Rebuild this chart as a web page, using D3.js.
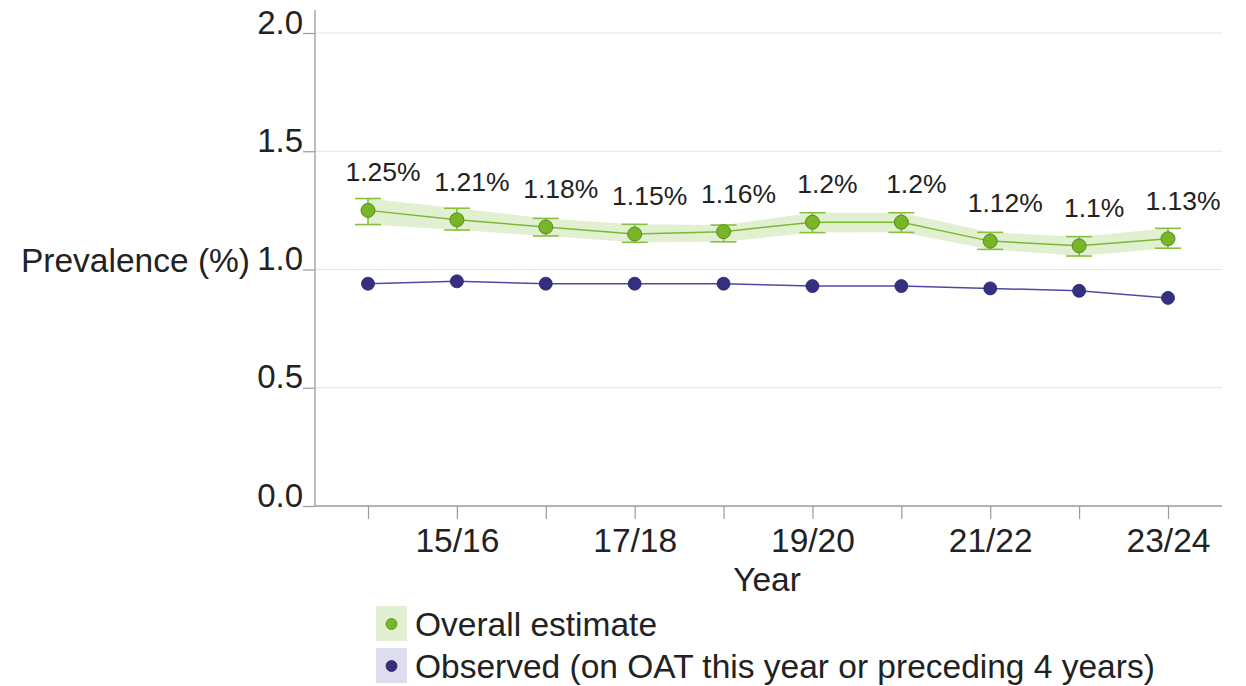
<!DOCTYPE html>
<html>
<head>
<meta charset="utf-8">
<script src="https://cdn.jsdelivr.net/npm/d3@7"></script>
<style>
  html, body { margin: 0; padding: 0; background: #fff; }
  svg { display: block; font-family: "Liberation Sans", Arial, Helvetica, sans-serif; }
</style>
</head>
<body>
<svg id="chart" width="1246" height="686"></svg>
<script>
// Financial years
const years = ["14/15", "15/16", "16/17", "17/18", "18/19", "19/20", "20/21", "21/22", "22/23", "23/24"];
// Overall estimated prevalence (%) with 95% interval bounds
const estimate = [1.25, 1.21, 1.18, 1.15, 1.16, 1.2, 1.2, 1.12, 1.1, 1.13];
const estimateLow = [1.19, 1.167, 1.142, 1.115, 1.117, 1.156, 1.157, 1.085, 1.057, 1.09];
const estimateHigh = [1.30, 1.259, 1.216, 1.191, 1.188, 1.24, 1.24, 1.157, 1.139, 1.174];
// Observed prevalence (%) – on OAT this year or preceding 4 years
const observed = [0.94, 0.95, 0.94, 0.94, 0.94, 0.93, 0.93, 0.92, 0.91, 0.88];
// Axis ticks
const yTicks = [0, 0.5, 1.0, 1.5, 2.0];
const xTickLabels = ["15/16", "17/18", "19/20", "21/22", "23/24"];

const svg = d3.select("#chart");
const textColor = "#222";
const axisFont = 33.5;

const x = d3.scalePoint().domain(years).range([368, 1168]);
const y = d3.scaleLinear().domain([0, 2]).range([506, 33]);
const left = 315, right = 1222;

// Gridlines
svg.append("g").selectAll("line").data(yTicks.filter(d => d > 0)).join("line")
  .attr("x1", left).attr("x2", right)
  .attr("y1", d => y(d)).attr("y2", d => y(d))
  .attr("stroke", "#e3e3e3").attr("stroke-width", 1.2);

// Y axis
const yAxis = svg.append("g").attr("transform", `translate(${left},0)`)
  .call(d3.axisLeft(y).tickValues(yTicks).tickFormat(d3.format(".1f")).tickSize(12).tickPadding(0));
yAxis.select(".domain").attr("d", `M0,10V${y(0)}`).attr("stroke", "#9a9a9a").attr("stroke-width", 1.3);
yAxis.selectAll(".tick line").attr("stroke", "#9a9a9a").attr("stroke-width", 1.2);
yAxis.selectAll(".tick text")
  .attr("x", -12).attr("dy", "0").attr("y", 0)
  .attr("fill", textColor).attr("font-size", 33).attr("font-family", "Liberation Sans, Arial, sans-serif");

// X axis
const xAxis = svg.append("g").attr("transform", `translate(0,${y(0)})`)
  .call(d3.axisBottom(x).tickSize(13).tickPadding(8)
    .tickFormat(d => xTickLabels.includes(d) ? d : ""));
xAxis.select(".domain").attr("d", `M${left},0H${right}`).attr("stroke", "#9a9a9a").attr("stroke-width", 1.3);
xAxis.selectAll(".tick line").attr("stroke", "#9a9a9a").attr("stroke-width", 1.2);
xAxis.selectAll(".tick text")
  .attr("dy", "0.71em").attr("y", 22)
  .attr("fill", textColor).attr("font-size", axisFont).attr("font-family", "Liberation Sans, Arial, sans-serif");

// Axis titles
svg.append("text").attr("x", 250).attr("y", 272).attr("text-anchor", "end")
  .attr("fill", textColor).attr("font-size", axisFont).text("Prevalence (%)");
svg.append("text").attr("x", 767).attr("y", 591).attr("text-anchor", "middle")
  .attr("fill", textColor).attr("font-size", axisFont).text("Year");

// Interval band for overall estimate
const band = d3.area()
  .x((d, i) => x(years[i]))
  .y0((d, i) => y(estimateLow[i]))
  .y1((d, i) => y(estimateHigh[i]));
svg.append("path").datum(estimate).attr("d", band)
  .attr("fill", "#e2f0d2");

// Error bars
const eb = svg.append("g").attr("stroke", "#86c03c").attr("stroke-width", 1.6);
years.forEach((yr, i) => {
  const cx = x(yr);
  eb.append("line").attr("x1", cx).attr("x2", cx).attr("y1", y(estimateLow[i])).attr("y2", y(estimateHigh[i]));
  eb.append("line").attr("x1", cx - 13).attr("x2", cx + 13).attr("y1", y(estimateLow[i])).attr("y2", y(estimateLow[i]));
  eb.append("line").attr("x1", cx - 13).attr("x2", cx + 13).attr("y1", y(estimateHigh[i])).attr("y2", y(estimateHigh[i]));
});

// Estimate line and points
const line = d3.line().x((d, i) => x(years[i])).y(d => y(d));
svg.append("path").datum(estimate).attr("d", line)
  .attr("fill", "none").attr("stroke", "#7bb935").attr("stroke-width", 1.5);
svg.append("g").selectAll("circle").data(estimate).join("circle")
  .attr("cx", (d, i) => x(years[i])).attr("cy", d => y(d)).attr("r", 7)
  .attr("fill", "#78b628").attr("stroke", "#558c1c").attr("stroke-width", 1);

// Value labels
svg.append("g").selectAll("text").data(estimate).join("text")
  .attr("x", (d, i) => x(years[i]) + 15).attr("y", d => y(d) - 29)
  .attr("text-anchor", "middle").attr("fill", textColor).attr("font-size", 26.5)
  .text(d => d + "%");

// Observed line and points
svg.append("path").datum(observed).attr("d", line)
  .attr("fill", "none").attr("stroke", "#4d49a6").attr("stroke-width", 1.5);
svg.append("g").selectAll("circle").data(observed).join("circle")
  .attr("cx", (d, i) => x(years[i])).attr("cy", d => y(d)).attr("r", 6.5)
  .attr("fill", "#34307f").attr("stroke", "#29266a").attr("stroke-width", 0.8);

// Legend
const legendItems = [
  { label: "Overall estimate", swatch: "#e2f0d2", dot: "#78b628", dotStroke: "#558c1c" },
  { label: "Observed (on OAT this year or preceding 4 years)", swatch: "#dedcef", dot: "#34307f", dotStroke: "#29266a" }
];
const lg = svg.append("g").selectAll("g").data(legendItems).join("g")
  .attr("transform", (d, i) => `translate(376,${606 + i * 42})`);
lg.append("rect").attr("width", 31).attr("height", 35).attr("fill", d => d.swatch);
lg.append("circle").attr("cx", 15.5).attr("cy", 18).attr("r", 5.5)
  .attr("fill", d => d.dot).attr("stroke", d => d.dotStroke).attr("stroke-width", 0.8);
lg.append("text").attr("x", 39).attr("y", 30)
  .attr("fill", textColor).attr("font-size", axisFont).text(d => d.label);
</script>
</body>
</html>
